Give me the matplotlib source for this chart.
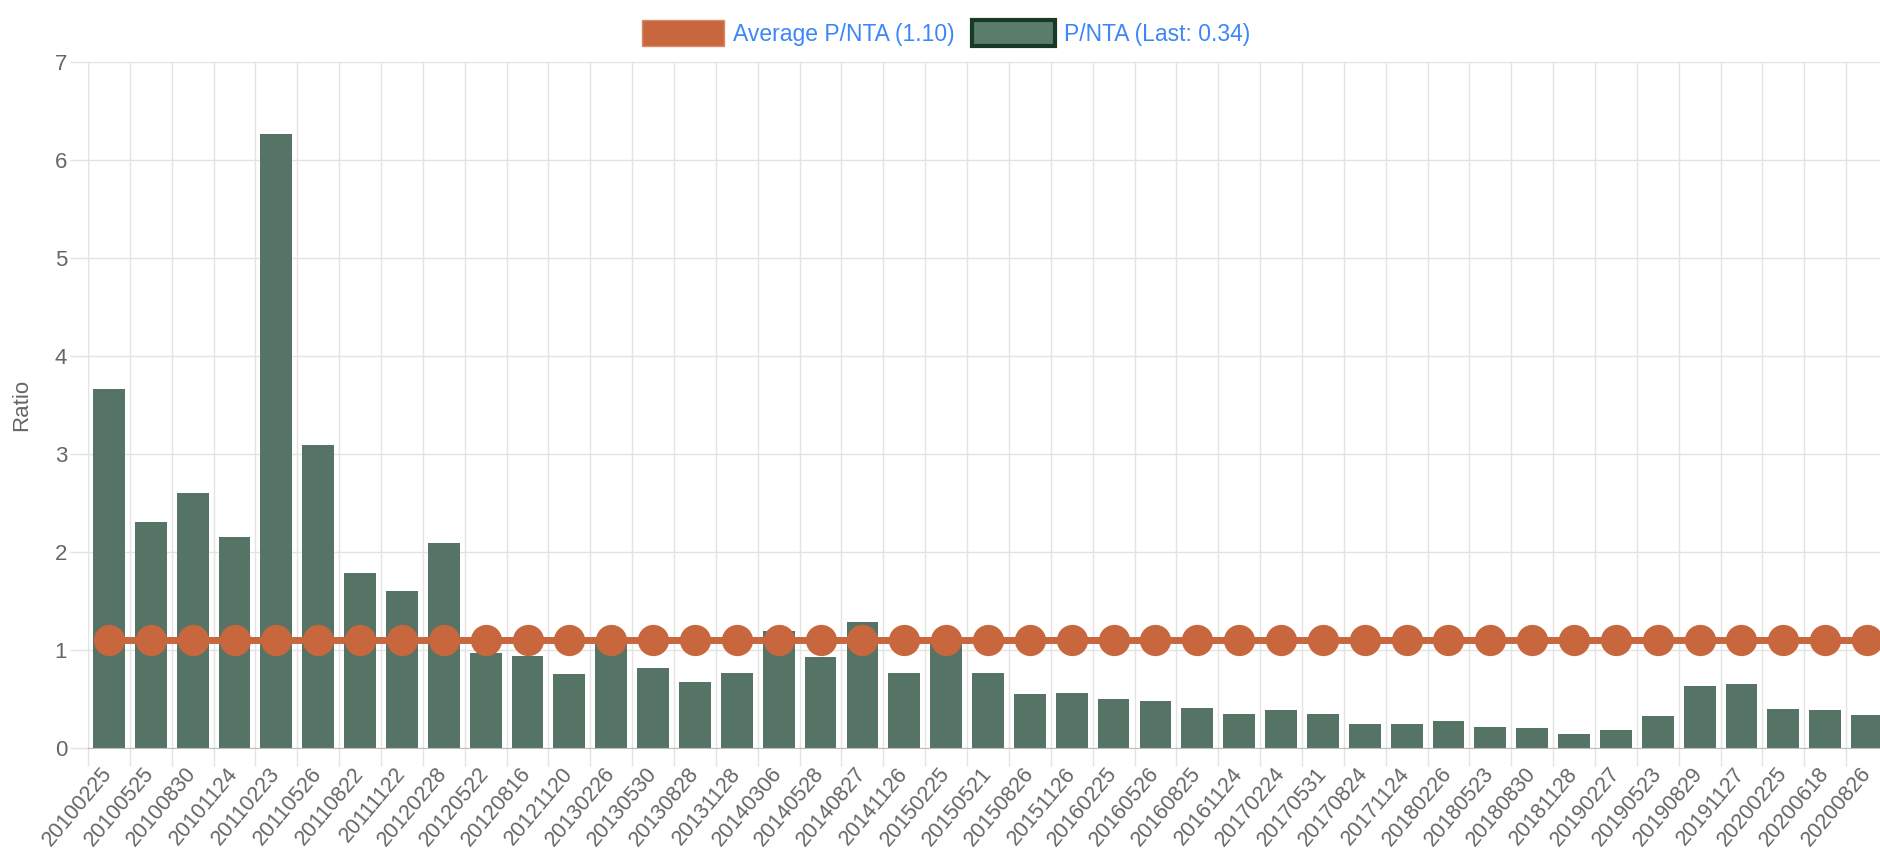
import numpy as np
import matplotlib
matplotlib.use("Agg")
import matplotlib.pyplot as plt
from matplotlib.patches import Patch

# --- P/NTA by report date ---
dates = ["20100225", "20100525", "20100830", "20101124", "20110223", "20110526",
         "20110822", "20111122", "20120228", "20120522", "20120816", "20121120",
         "20130226", "20130530", "20130828", "20131128", "20140306", "20140528",
         "20140827", "20141126", "20150225", "20150521", "20150826", "20151126",
         "20160225", "20160526", "20160825", "20161124", "20170224", "20170531",
         "20170824", "20171124", "20180226", "20180523", "20180830", "20181128",
         "20190227", "20190523", "20190829", "20191127", "20200225", "20200618",
         "20200826"]

pnta = [3.66, 2.31, 2.60, 2.15, 6.27, 3.09, 1.79, 1.60, 2.09, 0.97, 0.94, 0.76,
        1.07, 0.82, 0.67, 0.77, 1.19, 0.93, 1.29, 0.77, 1.08, 0.77, 0.55, 0.56,
        0.50, 0.48, 0.41, 0.35, 0.39, 0.35, 0.25, 0.24, 0.28, 0.21, 0.20, 0.14,
        0.18, 0.33, 0.63, 0.65, 0.40, 0.39, 0.34]

avg_pnta = 1.10
last_pnta = 0.34

ORANGE = "#c8663e"
GREEN = "#567466"
GREEN_EDGE = "#173a28"
GRID = "#e3e3e3"
TXT = "#666666"
BLUE = "#3d86f5"

plt.rcParams["font.family"] = ["Liberation Sans", "DejaVu Sans"]
plt.rcParams["font.size"] = 16

W, H = 1881, 852
fig = plt.figure(figsize=(W / 100, H / 100), dpi=100)
# plot area runs a little past the right edge of the canvas
ax = fig.add_axes([88 / W, 104 / H, 1800 / W, 686 / H])

x = np.arange(len(dates))
ax.bar(x, pnta, width=0.76, color=GREEN, zorder=2)
ax.plot(x, [avg_pnta] * len(dates), color=ORANGE, lw=5, marker="o",
        markersize=22.5, markeredgewidth=0, zorder=3, clip_on=False)

ax.set_xlim(-0.5, len(dates) - 0.5)
ax.set_ylim(0, 7)
ax.set_yticks(range(8))

# labels at bar centres, gridlines/tick marks between bars
ax.set_xticks(x)
ax.set_xticklabels(dates, rotation=50, ha="right", va="center",
                   rotation_mode="anchor", color=TXT, fontsize=15.5)
ax.set_xticks(np.arange(len(dates) + 1) - 0.5, minor=True)
ax.tick_params(axis="x", which="major", length=0, pad=16)
ax.tick_params(axis="x", which="minor", length=13, color=GRID, width=1)
ax.tick_params(axis="y", length=13, color=GRID, width=1, pad=2, labelcolor=TXT)

ax.grid(True, which="minor", axis="x", color=GRID, lw=1, zorder=0)
ax.grid(True, which="major", axis="y", color=GRID, lw=1, zorder=0)
ax.set_axisbelow(True)

for s in ["top", "right"]:
    ax.spines[s].set_visible(False)
ax.spines["left"].set_color(GRID)
ax.spines["bottom"].set_color("#bdbdbd")

ax.set_ylabel("Ratio", color=TXT, labelpad=16)

handles = [Patch(facecolor=ORANGE, edgecolor="#d98a6a", lw=1),
           Patch(facecolor="#5b7b6b", edgecolor=GREEN_EDGE, lw=3)]
labels = [f"Average P/NTA ({avg_pnta:.2f})", f"P/NTA (Last: {last_pnta:.2f})"]
leg = fig.legend(handles, labels, loc="center", bbox_to_anchor=(946 / W, 1 - 33 / H),
                 ncol=2, frameon=False, fontsize=16.5, handlelength=3.6,
                 handleheight=1.35, handletextpad=0.4, columnspacing=0.75,
                 borderpad=0)
for t in leg.get_texts():
    t.set_color(BLUE)

fig.savefig("out.png", dpi=100)
